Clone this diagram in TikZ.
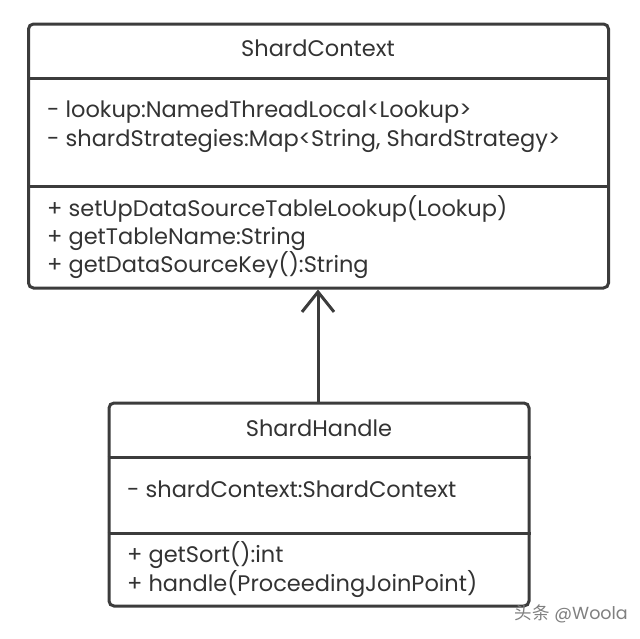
\documentclass[tikz,border=0pt]{standalone}
\usepackage{fontspec}
\setmainfont{Poppins}
\newfontfamily\cjkfont{Noto Sans CJK SC}
\usetikzlibrary{arrows.meta}
\definecolor{ink}{HTML}{3C3C3C}
\definecolor{txt}{HTML}{333333}
\tikzset{
  classbox/.style={draw=ink, line width=3pt, rounded corners=5pt, inner sep=0pt},
  divider/.style={draw=ink, line width=3pt},
  title/.style={font=\fontsize{22.5}{22.5}\selectfont, text=txt, inner sep=0pt},
  member/.style={font=\fontsize{22.5}{22.5}\selectfont, text=txt, inner sep=0pt, anchor=base west},
  inherit/.style={draw=ink, line width=3pt, -{Straight Barb[length=20pt,width=32pt,line width=3pt]}}
}
\begin{document}
\begin{tikzpicture}[x=1pt,y=-1pt]
\useasboundingbox[fill=white] (0,0) rectangle (640,638);
% ShardContext
\node[classbox, minimum width=580pt, minimum height=264pt] (ctx) at (318.5,156) {};
\draw[divider] (ctx.west |- 0,78) -- (ctx.east |- 0,78);
\draw[divider] (ctx.west |- 0,186) -- (ctx.east |- 0,186);
\node[title] (ctxname) at (318,48) {ShardContext};
\node[member] (ctxa1) at (47,117) {- lookup:NamedThreadLocal<Lookup>};
\node[member] (ctxa2) at (47,146) {- shardStrategies:Map<String, ShardStrategy>};
\node[member] (ctxm1) at (47,216) {+ setUpDataSourceTableLookup(Lookup)};
\node[member] (ctxm2) at (47,244) {+ getTableName:String};
\node[member] (ctxm3) at (47,272) {+ getDataSourceKey():String};
% ShardHandle
\node[classbox, minimum width=420pt, minimum height=203pt] (hdl) at (319,504.5) {};
\draw[divider] (hdl.west |- 0,457) -- (hdl.east |- 0,457);
\draw[divider] (hdl.west |- 0,533) -- (hdl.east |- 0,533);
\node[title] (hdlname) at (319,428) {ShardHandle};
\node[member] (hdla1) at (127,497) {- shardContext:ShardContext};
\node[member] (hdlm1) at (127,562) {+ getSort():int};
\node[member] (hdlm2) at (127,591) {+ handle(ProceedingJoinPoint)};
% inheritance
\draw[inherit] (hdl.north -| 318,0) -- (ctx.south -| 318,0);
% watermark
\node[font=\fontsize{17.5}{17.5}\selectfont, text=gray, inner sep=0pt, anchor=east] (wm) at (628,614) {{\cjkfont 头条} @Woola};
\end{tikzpicture}
\end{document}
